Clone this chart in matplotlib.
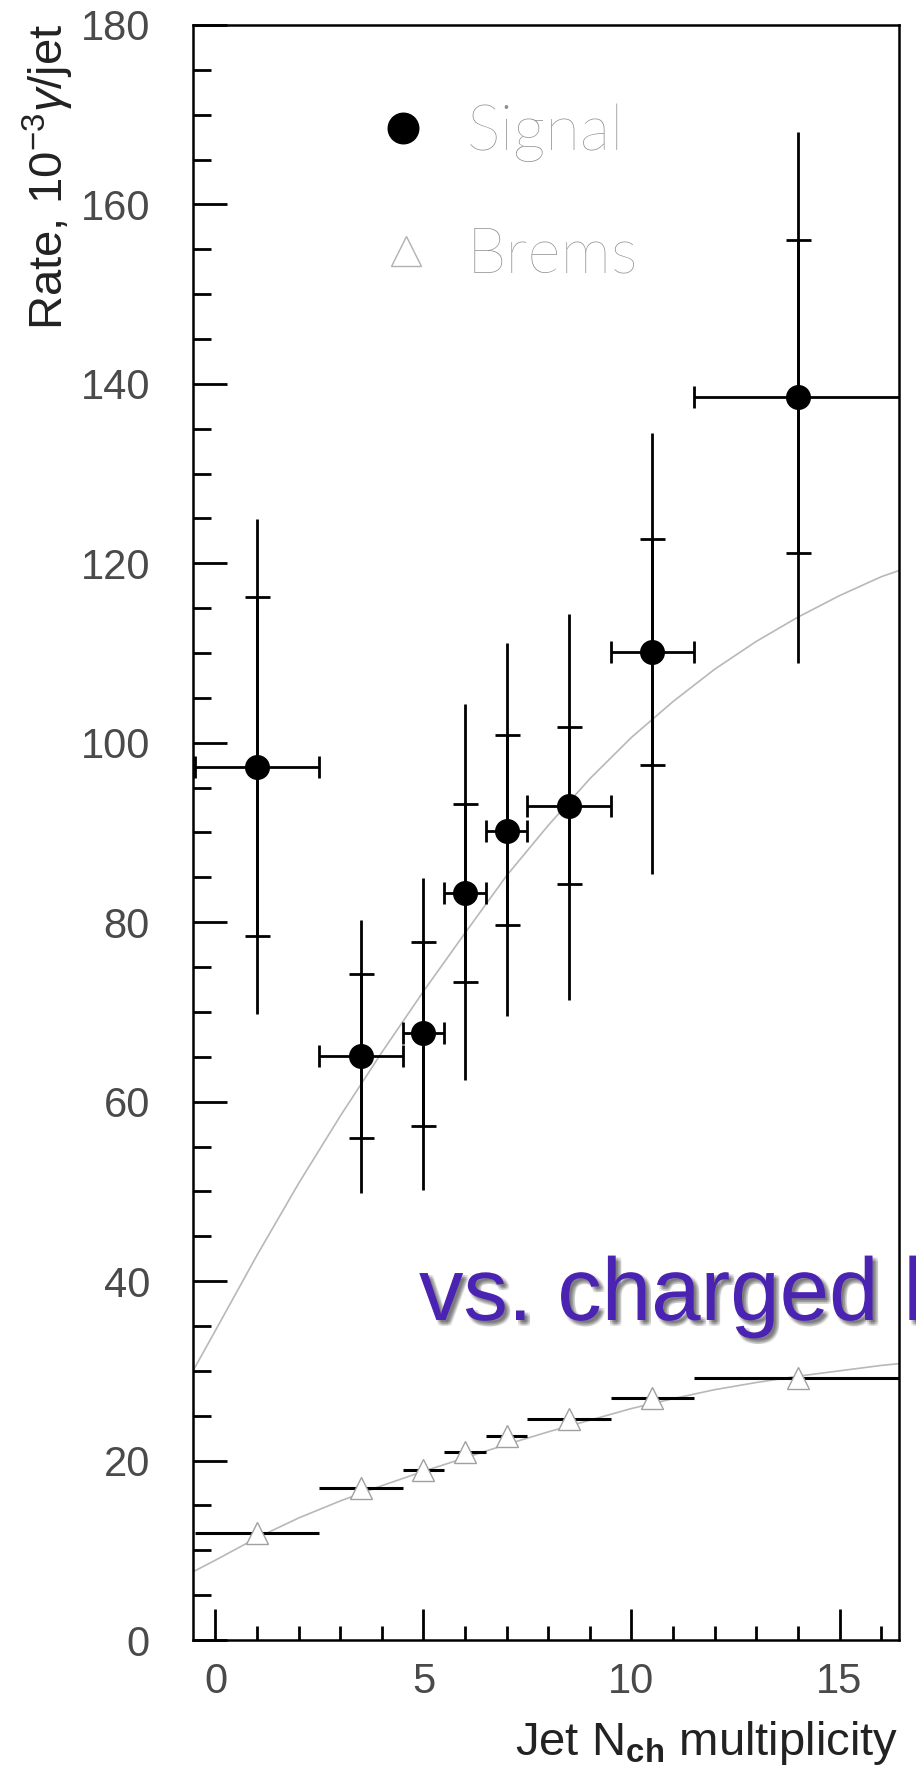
import matplotlib
matplotlib.use("Agg")
import matplotlib.pyplot as plt
import matplotlib.patheffects as pe
from matplotlib.ticker import MultipleLocator
import numpy as np

# ---------------- data ----------------
sig_x = [1, 3.5, 5, 6, 7, 8.5, 10.5, 14]
sig_xlo = [-0.5, 2.5, 4.5, 5.5, 6.5, 7.5, 9.5, 11.5]
sig_xhi = [2.5, 4.5, 5.5, 6.5, 7.5, 9.5, 11.5, 16.5]
sig_y = [97.3, 65.1, 67.6, 83.3, 90.2, 92.9, 110.1, 138.5]
sig_tot_lo = [69.8, 49.8, 50.1, 62.4, 69.5, 71.3, 85.4, 108.9]
sig_tot_hi = [124.9, 80.3, 84.9, 104.3, 111.1, 114.4, 134.5, 168.1]
sig_stat_lo = [78.5, 56.0, 57.3, 73.3, 79.7, 84.3, 97.5, 121.2]
sig_stat_hi = [116.3, 74.2, 77.8, 93.2, 100.9, 101.8, 122.7, 156.0]

brems_x = [1, 3.5, 5, 6, 7, 8.5, 10.5, 14]
brems_xlo = [-0.5, 2.5, 4.5, 5.5, 6.5, 7.5, 9.5, 11.5]
brems_xhi = [2.5, 4.5, 5.5, 6.5, 7.5, 9.5, 11.5, 16.5]
brems_y = [11.9, 16.9, 19.0, 20.9, 22.7, 24.6, 27.0, 29.2]

fit_x = [-0.54, 0, 1, 2, 3, 4, 5, 6, 7, 8, 9, 10, 11, 12, 13, 14, 15, 16, 16.43]
sig_fit_y = [30.0, 34.5, 42.9, 50.9, 58.4, 65.5, 72.3, 78.8, 85.2, 90.8, 96.0,
             100.6, 104.6, 108.2, 111.3, 114.0, 116.4, 118.5, 119.2]
brems_fit_y = [7.6, 8.9, 11.4, 13.6, 15.5, 17.2, 18.8, 20.3, 21.8, 23.2, 24.5,
               25.8, 26.9, 27.9, 28.7, 29.4, 30.0, 30.6, 30.8]

x_ticks = [0, 5, 10, 15]
y_ticks = [0, 20, 40, 60, 80, 100, 120, 140, 160, 180]

# ---------------- style ----------------
plt.rcParams['font.family'] = ['Liberation Sans', 'DejaVu Sans']
plt.rcParams['mathtext.fontset'] = 'custom'
plt.rcParams['mathtext.rm'] = 'Liberation Sans'
plt.rcParams['mathtext.it'] = 'Liberation Sans:italic'
plt.rcParams['mathtext.bf'] = 'Liberation Sans:bold'

W, H = 916, 1782
fig = plt.figure(figsize=(W / 100, H / 100), dpi=100)
ax = fig.add_axes([193 / W, 1 - 1640 / H, 706 / W, 1615 / H])

ax.set_xlim(-0.54, 16.43)
ax.set_ylim(0, 180)

# fit curves
ax.plot(fit_x, sig_fit_y, color='#b8b8b8', lw=1.2, zorder=1)
ax.plot(fit_x, brems_fit_y, color='#b8b8b8', lw=1.2, zorder=1)

# brems
bx = np.array(brems_x); by = np.array(brems_y)
ax.errorbar(bx, by, xerr=[bx - np.array(brems_xlo), np.array(brems_xhi) - bx],
            fmt='none', ecolor='black', elinewidth=2.2, capsize=0, zorder=2)
ax.plot(bx, by, linestyle='none', marker='^', markersize=16.5,
        markerfacecolor='white', markeredgecolor='#a0a0a0', markeredgewidth=1.0, zorder=3)

# signal
sx = np.array(sig_x); sy = np.array(sig_y)
ax.errorbar(sx, sy, xerr=[sx - np.array(sig_xlo), np.array(sig_xhi) - sx],
            fmt='none', ecolor='black', elinewidth=2.0, capsize=8, capthick=2.0, zorder=4)
ax.errorbar(sx, sy, yerr=[sy - np.array(sig_tot_lo), np.array(sig_tot_hi) - sy],
            fmt='none', ecolor='black', elinewidth=2.0, capsize=0, zorder=4)
ax.errorbar(sx, sy, yerr=[sy - np.array(sig_stat_lo), np.array(sig_stat_hi) - sy],
            fmt='none', ecolor='black', elinewidth=2.0, capsize=9, capthick=2.0, zorder=4)
ax.plot(sx, sy, linestyle='none', marker='o', markersize=17,
        markerfacecolor='black', markeredgecolor='black', zorder=5)

# axes styling
for s in ax.spines.values():
    s.set_linewidth(1.8)
    s.set_color('black')
    s.set_zorder(6)
ax.set_xticks(x_ticks)
ax.set_yticks(y_ticks)
ax.xaxis.set_minor_locator(MultipleLocator(1))
ax.yaxis.set_minor_locator(MultipleLocator(5))
ax.tick_params(which='both', direction='in', top=False, right=False,
               width=2.0, color='black', labelcolor='#4a4a4a', labelsize=30)
ax.tick_params(axis='y', which='major', length=24.5, pad=31)
ax.tick_params(axis='y', which='minor', length=13)
ax.tick_params(axis='x', which='major', length=22, pad=16)
ax.tick_params(axis='x', which='minor', length=10)

# axis labels
fig.text(898 / W, 1 - 1755 / H, r'Jet N$_{\mathbf{ch}}$ multiplicity',
         ha='right', va='baseline', fontsize=34, color='#222222')
fig.text(63 / W, 1 - 24 / H, r'Rate, 10$^{-3}$$\gamma$/jet', rotation=90,
         rotation_mode='anchor', ha='right', va='baseline', fontsize=34, color='#222222')

# legend
ax.plot([0.2975], [0.936], transform=ax.transAxes, marker='o', markersize=22,
        color='black', linestyle='none', clip_on=False)
ax.plot([0.3017], [0.860], transform=ax.transAxes, marker='^', markersize=22,
        markerfacecolor='white', markeredgecolor='#b0b0b0', markeredgewidth=1.0,
        linestyle='none', clip_on=False)
ax.text(0.388, 0.9226, 'Signal', transform=ax.transAxes, ha='left', va='baseline',
        fontsize=46, color='#8e8e8e', family=['Lato', 'DejaVu Sans'], fontweight='light')
ax.text(0.388, 0.847, 'Brems', transform=ax.transAxes, ha='left', va='baseline',
        fontsize=46, color='#8e8e8e', family=['Lato', 'DejaVu Sans'], fontweight='light')

# overlay text with shadow
shadow = []
for dx in (1.5, 2.8, 4.0):
    for dy in (-1.5, -2.8, -4.0):
        shadow.append(pe.SimplePatchShadow(offset=(dx, dy), shadow_rgbFace='#222222', alpha=0.09))
shadow.append(pe.Normal())
fig.text(419 / W, 1 - 1320 / H, 'vs. charged hadron multiplicity', ha='left', va='baseline',
         fontsize=64, color='#4B23B3', path_effects=shadow, zorder=10)

fig.savefig('out.png', dpi=100)
